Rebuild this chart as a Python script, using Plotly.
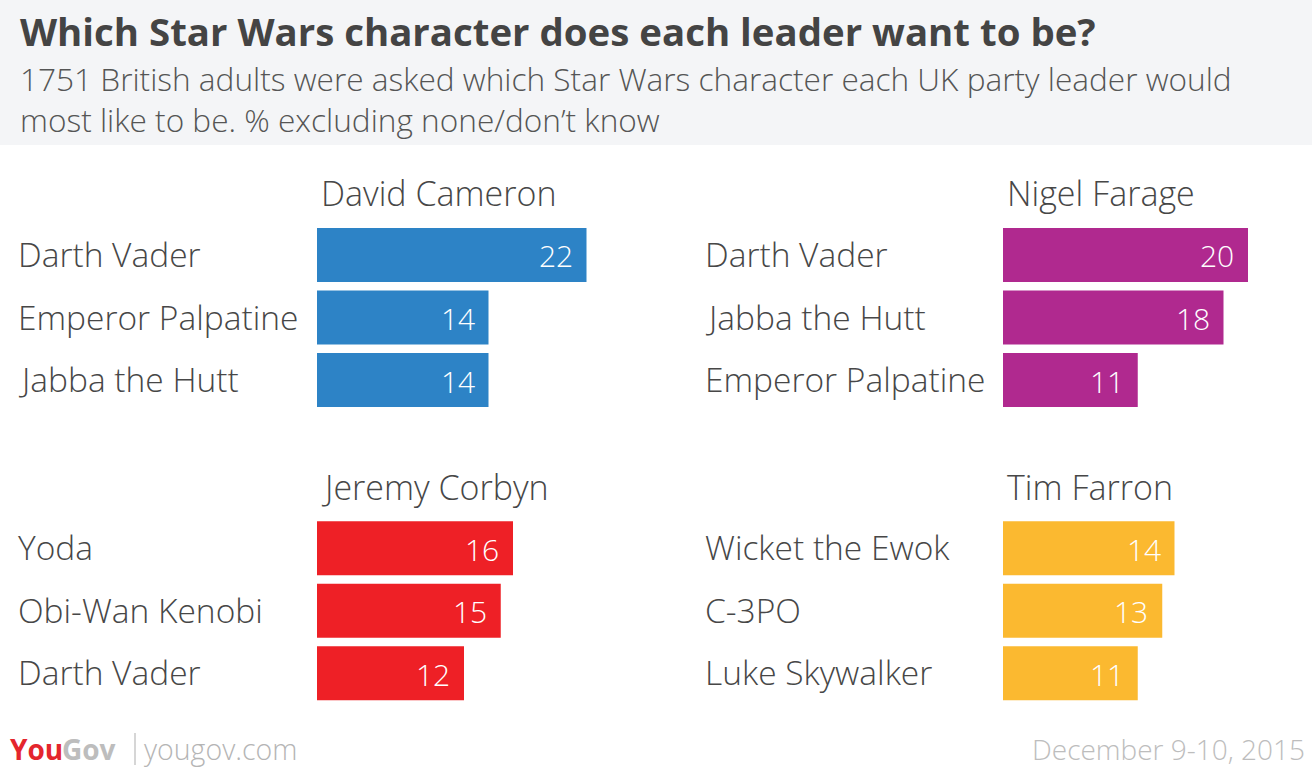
import plotly.graph_objects as go

leaders = ["David Cameron", "Nigel Farage", "Jeremy Corbyn", "Tim Farron"]
characters = [
    ["Darth Vader", "Emperor Palpatine", "Jabba the Hutt"],
    ["Darth Vader", "Jabba the Hutt", "Emperor Palpatine"],
    ["Yoda", "Obi-Wan Kenobi", "Darth Vader"],
    ["Wicket the Ewok", "C-3PO", "Luke Skywalker"],
]
values = [
    [22, 14, 14],
    [20, 18, 11],
    [16, 15, 12],
    [14, 13, 11],
]
colors = ["#2d83c6", "#b0298f", "#ee2026", "#fbb930"]

W, H = 1312, 767
FONT = "Open Sans"
TXT = "#474747"
XMAX = 25
PX_PER_UNIT = 12.25

def px(x):
    return x / W

def py(y):
    return 1 - y / H

# panel geometry (pixels)
bar_left = [317, 1003, 317, 1003]
label_left = [16, 703, 16, 703]
dom_top = [223.75, 223.75, 517, 517]
dom_bot = [411.25, 411.25, 704.5, 704.5]
title_y = [193, 193, 487, 487]

fig = go.Figure()
annotations = []
shapes = []

for i in range(4):
    n = i + 1
    xa = "x" if n == 1 else f"x{n}"
    ya = "y" if n == 1 else f"y{n}"
    cats = characters[i]
    fig.add_trace(go.Bar(
        x=values[i], y=cats, orientation="h",
        marker=dict(color=colors[i], line=dict(width=0)),
        xaxis=xa, yaxis=ya, showlegend=False, hoverinfo="skip",
    ))
    xl = bar_left[i]
    xr = xl + XMAX * PX_PER_UNIT
    layout_x = dict(domain=[px(xl), px(xr)], range=[0, XMAX], visible=False,
                    fixedrange=True, anchor=ya)
    layout_y = dict(domain=[py(dom_bot[i]), py(dom_top[i])], type="category",
                    categoryorder="array", categoryarray=cats,
                    autorange="reversed", visible=False, fixedrange=True,
                    anchor=xa)
    fig.update_layout(**{("xaxis" if n == 1 else f"xaxis{n}"): layout_x,
                         ("yaxis" if n == 1 else f"yaxis{n}"): layout_y})
    for c, v in zip(cats, values[i]):
        annotations.append(dict(
            x=v, y=c, xref=xa, yref=ya, text=str(v), showarrow=False,
            xanchor="right", xshift=-12, yshift=-1,
            font=dict(family=FONT, size=30, color="white", weight=300)))
        annotations.append(dict(
            x=px(label_left[i]), y=c, xref="paper", yref=ya, text=c,
            showarrow=False, xanchor="left", yshift=1,
            font=dict(family=FONT, size=33.5, color=TXT, weight=300)))
    annotations.append(dict(
        x=px(xl + 2), y=py(title_y[i]), xref="paper", yref="paper",
        text=leaders[i], showarrow=False, xanchor="left", yanchor="middle",
        font=dict(family=FONT, size=34, color=TXT, weight=300)))

# header
shapes.append(dict(type="rect", xref="paper", yref="paper", x0=0, x1=1,
                   y0=py(145), y1=1, fillcolor="#f4f5f7", line=dict(width=0),
                   layer="below"))
annotations.append(dict(
    x=px(18), y=py(31), xref="paper", yref="paper",
    text="<b>Which Star Wars character does each leader want to be?</b>",
    showarrow=False, xanchor="left", yanchor="middle",
    font=dict(family=FONT, size=38.4, color="#444444")))
annotations.append(dict(
    x=px(18), y=py(99), xref="paper", yref="paper",
    text="1751 British adults were asked which Star Wars character each UK party leader would<br>most like to be. % excluding none/don\u2019t know",
    showarrow=False, xanchor="left", yanchor="middle", align="left",
    font=dict(family=FONT, size=31.6, color="#555555", weight=300)))

# footer
annotations.append(dict(
    x=px(8), y=py(749), xref="paper", yref="paper", text="<b>You</b>",
    showarrow=False, xanchor="left", yanchor="middle",
    font=dict(family=FONT, size=28, color="#e4262d")))
annotations.append(dict(
    x=px(60), y=py(749), xref="paper", yref="paper", text="<b>Gov</b>",
    showarrow=False, xanchor="left", yanchor="middle",
    font=dict(family=FONT, size=28, color="#bdbdbd")))
shapes.append(dict(type="line", xref="paper", yref="paper",
                   x0=px(135), x1=px(135), y0=py(765), y1=py(733),
                   line=dict(color="#c8c8c8", width=1.5)))
annotations.append(dict(
    x=px(142), y=py(749), xref="paper", yref="paper", text="yougov.com",
    showarrow=False, xanchor="left", yanchor="middle",
    font=dict(family=FONT, size=28.5, color="#b5b5b5", weight=300)))
annotations.append(dict(
    x=px(1307), y=py(749), xref="paper", yref="paper", text="December 9-10, 2015",
    showarrow=False, xanchor="right", yanchor="middle",
    font=dict(family=FONT, size=28, color="#bdbdbd", weight=300)))

fig.update_layout(
    width=W, height=H, margin=dict(l=0, r=0, t=0, b=0),
    paper_bgcolor="white", plot_bgcolor="rgba(0,0,0,0)",
    bargap=0.136, annotations=annotations, shapes=shapes,
    font=dict(family=FONT),
)

fig.write_html("out.html", config={"displayModeBar": False},
               post_script="document.body.style.margin='0px';document.body.style.overflow='hidden';")
